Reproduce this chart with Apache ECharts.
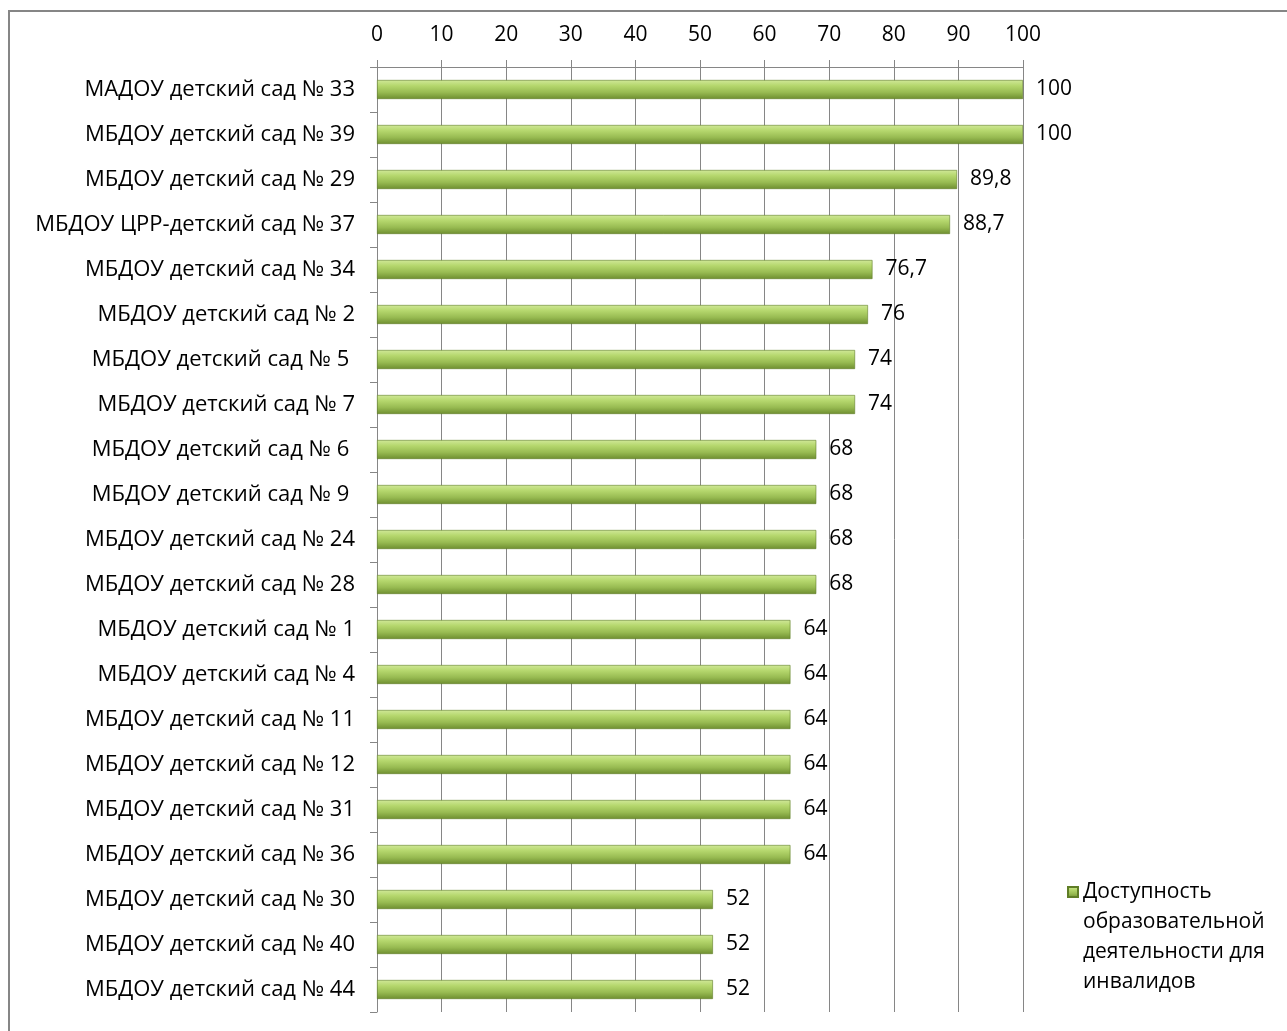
<!DOCTYPE html>
<html>
<head>
<meta charset="utf-8">
<script src="https://cdn.jsdelivr.net/npm/echarts@6/dist/echarts.min.js"></script>
<style>
html,body{margin:0;padding:0;background:#fff;}
#chart{width:1287px;height:1031px;}
</style>
</head>
<body>
<div id="chart"></div>
<script>
const categories = [
  'МАДОУ детский сад № 33',
  'МБДОУ детский сад № 39',
  'МБДОУ детский сад № 29',
  'МБДОУ ЦРР-детский сад № 37',
  'МБДОУ детский сад № 34',
  'МБДОУ детский сад № 2',
  'МБДОУ детский сад № 5 ',
  'МБДОУ детский сад № 7',
  'МБДОУ детский сад № 6 ',
  'МБДОУ детский сад № 9 ',
  'МБДОУ детский сад № 24',
  'МБДОУ детский сад № 28',
  'МБДОУ детский сад № 1',
  'МБДОУ детский сад № 4',
  'МБДОУ детский сад № 11',
  'МБДОУ детский сад № 12',
  'МБДОУ детский сад № 31',
  'МБДОУ детский сад № 36',
  'МБДОУ детский сад № 30',
  'МБДОУ детский сад № 40',
  'МБДОУ детский сад № 44'
];
const values = [100, 100, 89.8, 88.7, 76.7, 76, 74, 74, 68, 68, 68, 68, 64, 64, 64, 64, 64, 64, 52, 52, 52];
const seriesName = 'Доступность образовательной деятельности для инвалидов';
const legendLines = ['Доступность', 'образовательной', 'деятельности для', 'инвалидов'];

const FONT = 'Open Sans';
const barGrad = new echarts.graphic.LinearGradient(0, 0, 0, 1, [
  {offset: 0, color: '#d0e898'},
  {offset: 0.3, color: '#b5d76d'},
  {offset: 0.65, color: '#98bb52'},
  {offset: 1, color: '#6e8e30'}
]);

const chart = echarts.init(document.getElementById('chart'));
chart.setOption({
  animation: false,
  backgroundColor: '#fff',
  textStyle: {fontFamily: FONT},
  graphic: [{
    type: 'rect',
    shape: {x: 9, y: 11, width: 1400, height: 1200},
    style: {fill: 'none', stroke: '#868686', lineWidth: 2},
    silent: true,
    z: -10
  }],
  grid: {left: 377, right: 264, top: 67, bottom: 19, containLabel: false},
  legend: {
    left: 1062,
    top: 782,
    itemWidth: 10,
    itemHeight: 10,
    itemGap: 0,
    icon: 'rect',
    data: [seriesName],
    formatter: () => '\n\n\n' + legendLines.join('\n'),
    textStyle: {fontFamily: FONT, fontSize: 21, color: '#000', lineHeight: 30}
  },
  xAxis: {
    type: 'value',
    position: 'top',
    min: 0,
    max: 100,
    interval: 10,
    axisLine: {show: true, lineStyle: {color: '#868686', width: 1}},
    axisTick: {show: true, length: 7, lineStyle: {color: '#868686'}},
    axisLabel: {fontFamily: FONT, fontSize: 21, color: '#000', margin: 21},
    splitLine: {show: true, lineStyle: {color: '#868686', width: 1}}
  },
  yAxis: {
    type: 'category',
    data: categories,
    inverse: true,
    axisLine: {show: true, lineStyle: {color: '#868686', width: 1}},
    axisTick: {show: true, length: 7, lineStyle: {color: '#868686'}},
    axisLabel: {fontFamily: FONT, fontSize: 22, color: '#000', margin: 22, padding: [4, 0, 0, 0]}
  },
  series: [{
    name: seriesName,
    type: 'bar',
    data: values,
    barWidth: 19,
    itemStyle: {color: barGrad, borderColor: '#5f7d26', borderWidth: 0.6},
    label: {
      show: true,
      position: 'right',
      distance: 13,
      fontFamily: FONT,
      fontSize: 21,
      color: '#000',
      padding: [4, 0, 0, 0],
      formatter: p => String(p.value).replace('.', ',')
    }
  }]
});
</script>
</body>
</html>
